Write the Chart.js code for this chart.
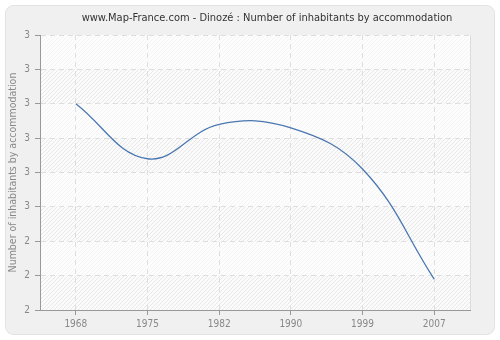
<!DOCTYPE html>
<html>
<head>
<meta charset="utf-8">
<script src="https://cdn.jsdelivr.net/npm/chart.js@4"></script>
<style>
  html, body { margin: 0; padding: 0; background: #fff; }
  #wrap { width: 500px; height: 340px; }
</style>
</head>
<body>
<div id="wrap"><canvas id="chart" width="500" height="340"></canvas></div>
<script>
// data
const years = ['1968', '1975', '1982', '1990', '1999', '2007'];
const perHome = [2.80, 2.64, 2.74, 2.73, 2.61, 2.29];
const titleText = 'www.Map-France.com - Dinozé : Number of inhabitants by accommodation';
const yTitle = 'Number of inhabitants by accommodation';

const FONT = '"DejaVu Sans Condensed", "DejaVu Sans", sans-serif';

// hatch pattern for the plot area
function makeHatch() {
    const c = document.createElement('canvas');
    c.width = 4; c.height = 4;
    const g = c.getContext('2d');
    g.fillStyle = '#fbfbfb';
    g.fillRect(0, 0, 4, 4);
    g.strokeStyle = '#e8e8e8';
    g.lineWidth = 1;
    g.beginPath();
    g.moveTo(0, 4); g.lineTo(4, 0);
    g.moveTo(-1, 1); g.lineTo(1, -1);
    g.moveTo(3, 5); g.lineTo(5, 3);
    g.stroke();
    return c;
}

const frame = {
    id: 'frame',
    beforeDraw(chart) {
        const ctx = chart.ctx;
        const a = chart.chartArea;
        ctx.save();
        ctx.fillStyle = '#ffffff';
        ctx.fillRect(0, 0, chart.width, chart.height);
        ctx.beginPath();
        ctx.roundRect(5.5, 5.5, 489, 329, 8);
        ctx.fillStyle = '#f0f0f0';
        ctx.fill();
        ctx.strokeStyle = '#e2e2e2';
        ctx.stroke();
        ctx.fillStyle = ctx.createPattern(makeHatch(), 'repeat');
        ctx.fillRect(a.left, a.top, a.right - a.left, a.bottom - a.top);
        // odd bands a touch lighter
        const y = chart.scales.y;
        ctx.fillStyle = 'rgba(255,255,255,0.5)';
        y.ticks.forEach((t, i) => {
            if (i % 2 === 1 && i < y.ticks.length - 1) {
                const y0 = y.getPixelForValue(y.ticks[i + 1].value);
                const y1 = y.getPixelForValue(t.value);
                ctx.fillRect(a.left, y0, a.right - a.left, y1 - y0);
            }
        });
        ctx.restore();
    },
    afterDraw(chart) {
        const ctx = chart.ctx;
        const a = chart.chartArea;
        ctx.save();
        ctx.strokeStyle = '#dddddd';
        ctx.beginPath();
        ctx.moveTo(a.right + 0.5, a.top);
        ctx.lineTo(a.right + 0.5, a.bottom);
        ctx.stroke();
        ctx.fillStyle = '#333333';
        ctx.font = '11px ' + FONT;
        ctx.textAlign = 'center';
        ctx.textBaseline = 'middle';
        ctx.fillText(titleText, 267, 18);
        ctx.restore();
    }
};

new Chart(document.getElementById('chart'), {
    type: 'line',
    data: {
        labels: years,
        datasets: [{
            data: perHome,
            borderColor: '#4a77b0',
            borderWidth: 1.3,
            tension: 0.4,
            pointRadius: 0,
            fill: false
        }]
    },
    options: {
        responsive: false,
        animation: false,
        layout: { padding: { top: 35, right: 30, bottom: 0, left: 3 } },
        plugins: {
            legend: { display: false },
            title: { display: false },
            tooltip: { enabled: false }
        },
        scales: {
            x: {
                offset: true,
                afterFit(s) { s.height = 30; },
                grid: {
                    color: '#dedede',
                    tickColor: '#999999',
                    tickLength: 5,
                    tickBorderDash: []
                },
                border: { color: '#999999', dash: [5, 4] },
                ticks: {
                    color: '#888888',
                    padding: 3,
                    font: { family: FONT, size: 10 }
                }
            },
            y: {
                min: 2.2,
                max: 3.0,
                afterFit(s) { s.width = 37; },
                grid: {
                    color: '#dedede',
                    tickColor: '#999999',
                    tickLength: 5,
                    tickBorderDash: []
                },
                border: { color: '#999999', dash: [5, 4] },
                ticks: {
                    stepSize: 0.1,
                    color: '#888888',
                    padding: 5,
                    font: { family: FONT, size: 10 },
                    callback: v => Math.round(v)
                },
                title: {
                    display: true,
                    text: yTitle,
                    color: '#888888',
                    font: { family: FONT, size: 10.5 },
                    padding: { top: 4, bottom: 0 }
                }
            }
        }
    },
    plugins: [frame]
});
</script>
</body>
</html>
